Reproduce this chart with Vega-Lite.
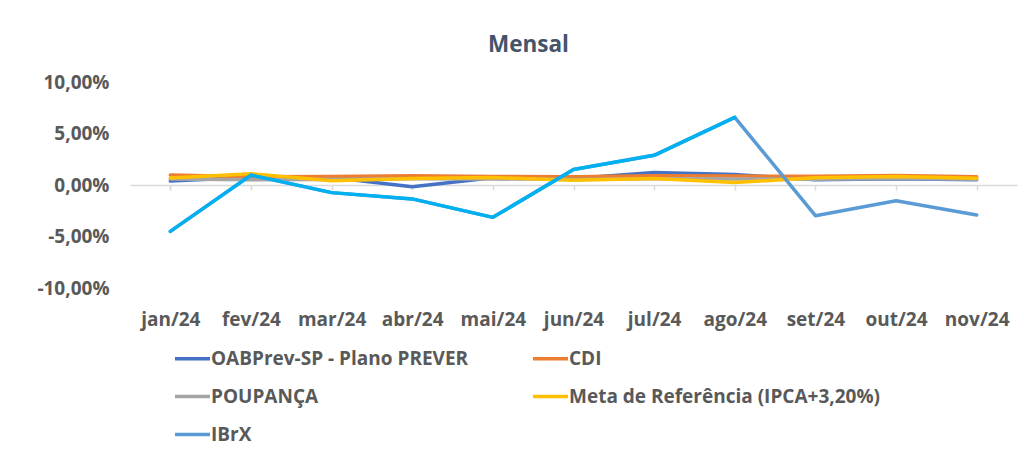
{
  "$schema": "https://vega.github.io/schema/vega-lite/v6.json",
  "autosize": {"type": "none"},
  "width": 887,
  "height": 206,
  "padding": {"left": 130, "top": 82, "right": 7, "bottom": 166},
  "background": "white",
  "config": {
    "font": "Open Sans",
    "view": {"stroke": null}
  },
  "title": {
    "text": "Mensal",
    "font": "Open Sans",
    "fontSize": 22.5,
    "fontWeight": "bold",
    "color": "#44546A",
    "anchor": "middle",
    "frame": "group",
    "dx": -45,
    "offset": 17
  },
  "data": {
    "values": [
      {"serie": "OABPrev-SP - Plano PREVER", "mes": "jan/24", "valor": 0.38},
      {"serie": "OABPrev-SP - Plano PREVER", "mes": "fev/24", "valor": 0.75},
      {"serie": "OABPrev-SP - Plano PREVER", "mes": "mar/24", "valor": 0.72},
      {"serie": "OABPrev-SP - Plano PREVER", "mes": "abr/24", "valor": -0.16},
      {"serie": "OABPrev-SP - Plano PREVER", "mes": "mai/24", "valor": 0.70},
      {"serie": "OABPrev-SP - Plano PREVER", "mes": "jun/24", "valor": 0.62},
      {"serie": "OABPrev-SP - Plano PREVER", "mes": "jul/24", "valor": 1.22},
      {"serie": "OABPrev-SP - Plano PREVER", "mes": "ago/24", "valor": 1.02},
      {"serie": "OABPrev-SP - Plano PREVER", "mes": "set/24", "valor": 0.50},
      {"serie": "OABPrev-SP - Plano PREVER", "mes": "out/24", "valor": 0.60},
      {"serie": "OABPrev-SP - Plano PREVER", "mes": "nov/24", "valor": 0.52},
      {"serie": "CDI", "mes": "jan/24", "valor": 0.97},
      {"serie": "CDI", "mes": "fev/24", "valor": 0.80},
      {"serie": "CDI", "mes": "mar/24", "valor": 0.83},
      {"serie": "CDI", "mes": "abr/24", "valor": 0.89},
      {"serie": "CDI", "mes": "mai/24", "valor": 0.83},
      {"serie": "CDI", "mes": "jun/24", "valor": 0.79},
      {"serie": "CDI", "mes": "jul/24", "valor": 0.91},
      {"serie": "CDI", "mes": "ago/24", "valor": 0.87},
      {"serie": "CDI", "mes": "set/24", "valor": 0.84},
      {"serie": "CDI", "mes": "out/24", "valor": 0.93},
      {"serie": "CDI", "mes": "nov/24", "valor": 0.79},
      {"serie": "POUPANÇA", "mes": "jan/24", "valor": 0.59},
      {"serie": "POUPANÇA", "mes": "fev/24", "valor": 0.51},
      {"serie": "POUPANÇA", "mes": "mar/24", "valor": 0.53},
      {"serie": "POUPANÇA", "mes": "abr/24", "valor": 0.60},
      {"serie": "POUPANÇA", "mes": "mai/24", "valor": 0.58},
      {"serie": "POUPANÇA", "mes": "jun/24", "valor": 0.53},
      {"serie": "POUPANÇA", "mes": "jul/24", "valor": 0.61},
      {"serie": "POUPANÇA", "mes": "ago/24", "valor": 0.59},
      {"serie": "POUPANÇA", "mes": "set/24", "valor": 0.55},
      {"serie": "POUPANÇA", "mes": "out/24", "valor": 0.62},
      {"serie": "POUPANÇA", "mes": "nov/24", "valor": 0.55},
      {"serie": "Meta de Referência (IPCA+3,20%)", "mes": "jan/24", "valor": 0.68},
      {"serie": "Meta de Referência (IPCA+3,20%)", "mes": "fev/24", "valor": 1.09},
      {"serie": "Meta de Referência (IPCA+3,20%)", "mes": "mar/24", "valor": 0.42},
      {"serie": "Meta de Referência (IPCA+3,20%)", "mes": "abr/24", "valor": 0.64},
      {"serie": "Meta de Referência (IPCA+3,20%)", "mes": "mai/24", "valor": 0.72},
      {"serie": "Meta de Referência (IPCA+3,20%)", "mes": "jun/24", "valor": 0.47},
      {"serie": "Meta de Referência (IPCA+3,20%)", "mes": "jul/24", "valor": 0.64},
      {"serie": "Meta de Referência (IPCA+3,20%)", "mes": "ago/24", "valor": 0.24},
      {"serie": "Meta de Referência (IPCA+3,20%)", "mes": "set/24", "valor": 0.70},
      {"serie": "Meta de Referência (IPCA+3,20%)", "mes": "out/24", "valor": 0.82},
      {"serie": "Meta de Referência (IPCA+3,20%)", "mes": "nov/24", "valor": 0.65},
      {"serie": "IBrX", "mes": "jan/24", "valor": -4.50},
      {"serie": "IBrX", "mes": "fev/24", "valor": 0.96},
      {"serie": "IBrX", "mes": "mar/24", "valor": -0.74},
      {"serie": "IBrX", "mes": "abr/24", "valor": -1.35},
      {"serie": "IBrX", "mes": "mai/24", "valor": -3.14},
      {"serie": "IBrX", "mes": "jun/24", "valor": 1.50},
      {"serie": "IBrX", "mes": "jul/24", "valor": 2.88},
      {"serie": "IBrX", "mes": "ago/24", "valor": 6.57},
      {"serie": "IBrX", "mes": "set/24", "valor": -2.98},
      {"serie": "IBrX", "mes": "out/24", "valor": -1.52},
      {"serie": "IBrX", "mes": "nov/24", "valor": -2.92}
    ]
  },
  "encoding": {
    "x": {
      "field": "mes",
      "type": "ordinal",
      "sort": ["jan/24", "fev/24", "mar/24", "abr/24", "mai/24", "jun/24", "jul/24", "ago/24", "set/24", "out/24", "nov/24"],
      "scale": {"type": "point", "padding": 0.5},
      "axis": {
        "title": null,
        "orient": "bottom",
        "offset": -103,
        "domainColor": "#D9D9D9",
        "domainWidth": 1.5,
        "ticks": true,
        "tickBand": "extent",
        "tickColor": "#D9D9D9",
        "tickWidth": 1.5,
        "tickSize": 5,
        "labelPadding": 120,
        "labelAngle": 0,
        "labelFont": "Open Sans",
        "labelFontSize": 19,
        "labelFontWeight": "bold",
        "labelColor": "#595959",
        "grid": false
      }
    },
    "y": {
      "field": "valor",
      "type": "quantitative",
      "scale": {"domain": [-10, 10], "nice": false},
      "axis": {
        "title": null,
        "values": [-10, -5, 0, 5, 10],
        "labelExpr": "replace(replace(format(datum.value, '.2f'), '.', ','), '\u2212', '-') + '%'",
        "domain": false,
        "ticks": false,
        "grid": false,
        "labelPadding": 21,
        "labelFont": "Open Sans",
        "labelFontSize": 19,
        "labelFontWeight": "bold",
        "labelColor": "#595959"
      }
    }
  },
  "layer": [
    {
      "mark": {"type": "line", "strokeWidth": 3.5, "strokeCap": "round", "strokeJoin": "round"},
      "encoding": {
        "color": {
          "field": "serie",
          "type": "nominal",
          "scale": {
            "domain": ["OABPrev-SP - Plano PREVER", "CDI", "POUPANÇA", "Meta de Referência (IPCA+3,20%)", "IBrX"],
            "range": ["#4472C4", "#ED7D31", "#A5A5A5", "#FFC000", "#5B9BD5"]
          },
          "legend": {
            "title": null,
            "orient": "none",
            "direction": "horizontal",
            "legendX": 43,
            "legendY": 257,
            "columns": 2,
            "columnPadding": 57,
            "rowPadding": 8,
            "symbolType": "stroke",
            "symbolSize": 1225,
            "symbolStrokeWidth": 3.5,
            "labelOffset": -1,
            "labelFont": "Open Sans",
            "labelFontSize": 19,
            "labelFontWeight": "bold",
            "labelColor": "#595959",
            "labelLimit": 500
          }
        }
      }
    },
    {
      "transform": [
        {"filter": "datum.serie == 'IBrX' && indexof(['jan/24','fev/24','mar/24','abr/24','mai/24','jun/24','jul/24','ago/24'], datum.mes) >= 0"}
      ],
      "mark": {"type": "line", "strokeWidth": 3.5, "strokeCap": "round", "strokeJoin": "round", "color": "#00B0F0"}
    }
  ]
}
